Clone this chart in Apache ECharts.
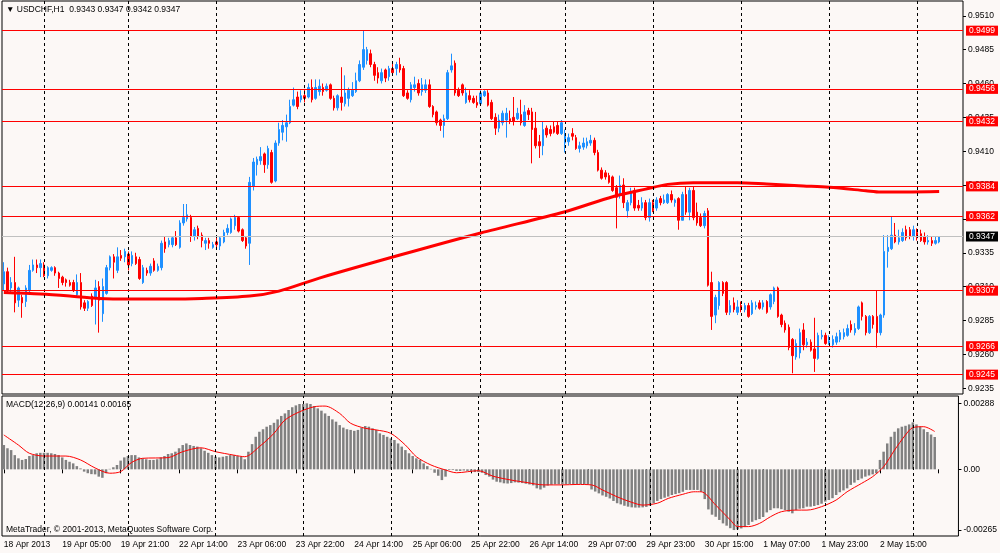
<!DOCTYPE html>
<html>
<head>
<meta charset="utf-8">
<script src="https://cdn.jsdelivr.net/npm/echarts@6/dist/echarts.min.js"></script>
<style>
  html, body { margin: 0; padding: 0; background: #fcf8f6; }
  #chart { width: 1000px; height: 553px; }
</style>
</head>
<body>
<div id="chart"></div>
<script>
// trading hours on the chart: [day, first hour, last hour]
const sessions = [
  ['18 Apr', 13, 23], ['19 Apr', 0, 22], ['22 Apr', 0, 23], ['23 Apr', 0, 23],
  ['24 Apr', 0, 23], ['25 Apr', 0, 23], ['26 Apr', 0, 22], ['29 Apr', 0, 23],
  ['30 Apr', 0, 23], ['1 May', 0, 23], ['2 May', 0, 23], ['3 May', 0, 6]
]
const firstLabel = '18 Apr 2013'
const emptyBars = 6

const opens = [
  .9312,.9321,.9309,.9313,.9300,.9302,.9299,.9307,.9322,.9326,.9324,.9326,.9318,.9322,.9324,.9320,
  .9317,.9315,.9313,.9313,.9304,.9313,.9298,.9294,.9303,.9302,.9310,.9290,.9305,.9324,.9332,.9322,
  .9333,.9332,.9334,.9327,.9332,.9330,.9313,.9322,.9320,.9329,.9322,.9324,.9343,.9341,.9341,.9346,
  .9339,.9357,.9360,.9361,.9347,.9353,.9348,.9342,.9344,.9339,.9343,.9340,.9343,.9350,.9350,.9355,
  .9361,.9352,.9346,.9342,.9384,.9400,.9403,.9408,.9400,.9409,.9388,.9416,.9424,.9428,.9431,.9444,
  .9450,.9448,.9451,.9450,.9457,.9449,.9454,.9457,.9455,.9459,.9449,.9442,.9450,.9445,.9449,.9451,
  .9454,.9462,.9472,.9477,.9482,.9474,.9468,.9462,.9470,.9465,.9471,.9471,.9474,.9471,.9453,.9448,
  .9457,.9460,.9454,.9455,.9459,.9443,.9439,.9433,.9429,.9434,.9470,.9475,.9455,.9459,.9446,.9451,
  .9449,.9446,.9445,.9451,.9453,.9446,.9435,.9427,.9431,.9433,.9434,.9435,.9434,.9437,.9429,.9440,
  .9439,.9427,.9417,.9414,.9427,.9426,.9428,.9429,.9423,.9416,.9417,.9423,.9420,.9412,.9413,.9414,
  .9416,.9418,.9409,.9396,.9394,.9392,.9391,.9383,.9378,.9385,.9366,.9372,.9381,.9370,.9368,.9372,
  .9361,.9372,.9368,.9375,.9372,.9372,.9378,.9372,.9375,.9359,.9378,.9365,.9381,.9365,.9361,.9355,
  .9366,.9313,.9289,.9296,.9313,.9313,.9291,.9298,.9291,.9296,.9293,.9296,.9290,.9295,.9298,.9295,
  .9299,.9295,.9299,.9309,.9289,.9283,.9280,.9271,.9258,.9261,.9278,.9267,.9269,.9264,.9257,.9273,
  .9274,.9268,.9267,.9269,.9271,.9273,.9274,.9282,.9276,.9279,.9298,.9288,.9276,.9288,.9288,.9276,
  .9289,.9336,.9338,.9348,.9343,.9344,.9352,.9352,.9347,.9350,.9349,.9347,.9343,.9344,.9342,.9343
]
const closes = [
  .9321,.9307,.9313,.9298,.9309,.9298,.9309,.9322,.9326,.9324,.9327,.9318,.9324,.9324,.9320,.9316,
  .9313,.9313,.9311,.9307,.9313,.9295,.9294,.9299,.9296,.9309,.9300,.9310,.9324,.9332,.9328,.9332,
  .9331,.9336,.9326,.9333,.9327,.9316,.9324,.9320,.9325,.9322,.9325,.9342,.9338,.9344,.9346,.9341,
  .9357,.9361,.9363,.9347,.9352,.9347,.9344,.9344,.9342,.9341,.9341,.9346,.9350,.9353,.9360,.9361,
  .9351,.9344,.9340,.9387,.9402,.9404,.9406,.9400,.9412,.9387,.9416,.9426,.9429,.9431,.9443,.9448,
  .9443,.9451,.9449,.9457,.9448,.9457,.9458,.9454,.9458,.9449,.9442,.9451,.9446,.9453,.9455,.9455,
  .9462,.9474,.9485,.9485,.9474,.9466,.9464,.9468,.9464,.9471,.9468,.9474,.9470,.9451,.9449,.9459,
  .9459,.9453,.9459,.9459,.9443,.9437,.9431,.9429,.9434,.9468,.9473,.9453,.9451,.9453,.9453,.9448,
  .9446,.9444,.9453,.9454,.9444,.9434,.9427,.9433,.9438,.9438,.9432,.9432,.9438,.9431,.9439,.9437,
  .9426,.9414,.9414,.9426,.9422,.9423,.9424,.9423,.9431,.9423,.9420,.9421,.9412,.9414,.9416,.9417,
  .9418,.9409,.9396,.9390,.9391,.9387,.9381,.9376,.9385,.9372,.9372,.9380,.9368,.9368,.9372,.9361,
  .9372,.9366,.9374,.9372,.9374,.9378,.9374,.9374,.9359,.9378,.9365,.9381,.9361,.9357,.9355,.9364,
  .9311,.9288,.9302,.9313,.9305,.9291,.9296,.9293,.9295,.9294,.9296,.9288,.9298,.9296,.9294,.9298,
  .9291,.9304,.9309,.9288,.9282,.9278,.9265,.9259,.9268,.9276,.9267,.9269,.9263,.9257,.9274,.9274,
  .9268,.9270,.9271,.9273,.9276,.9276,.9279,.9278,.9279,.9295,.9288,.9276,.9288,.9282,.9276,.9289,
  .9336,.9339,.9348,.9343,.9346,.9350,.9346,.9347,.9352,.9346,.9344,.9343,.9344,.9342,.9344,.9347
]
const lows = [
  .9307,.9306,.9305,.9291,.9295,.9287,.9295,.9306,.9321,.9320,.9317,.9317,.9316,.9321,.9318,.9309,
  .9311,.9310,.9310,.9306,.9302,.9293,.9292,.9292,.9295,.9282,.9276,.9284,.9304,.9322,.9316,.9320,
  .9329,.9328,.9322,.9325,.9326,.9315,.9312,.9318,.9318,.9321,.9321,.9322,.9335,.9339,.9339,.9340,
  .9338,.9355,.9358,.9343,.9344,.9345,.9339,.9337,.9338,.9338,.9339,.9337,.9342,.9348,.9349,.9352,
  .9350,.9343,.9338,.9326,.9381,.9392,.9400,.9394,.9397,.9386,.9387,.9414,.9418,.9417,.9430,.9443,
  .9441,.9446,.9446,.9449,.9446,.9448,.9451,.9451,.9454,.9448,.9440,.9440,.9440,.9443,.9443,.9450,
  .9453,.9461,.9470,.9474,.9472,.9462,.9460,.9460,.9461,.9462,.9466,.9466,.9468,.9450,.9448,.9446,
  .9454,.9451,.9451,.9453,.9442,.9435,.9429,.9425,.9420,.9433,.9468,.9451,.9450,.9451,.9445,.9446,
  .9445,.9442,.9444,.9450,.9443,.9433,.9422,.9424,.9429,.9420,.9430,.9429,.9433,.9429,.9428,.9433,
  .9401,.9412,.9405,.9407,.9420,.9421,.9423,.9422,.9422,.9409,.9414,.9418,.9411,.9409,.9411,.9412,
  .9414,.9407,.9395,.9389,.9389,.9386,.9380,.9353,.9375,.9368,.9361,.9370,.9366,.9366,.9366,.9359,
  .9358,.9365,.9366,.9370,.9371,.9371,.9372,.9369,.9352,.9359,.9363,.9359,.9359,.9355,.9354,.9353,
  .9310,.9278,.9283,.9293,.9303,.9289,.9289,.9291,.9289,.9291,.9291,.9287,.9289,.9293,.9293,.9293,
  .9290,.9293,.9297,.9287,.9280,.9276,.9263,.9246,.9256,.9257,.9263,.9265,.9262,.9247,.9256,.9271,
  .9267,.9267,.9265,.9267,.9269,.9271,.9273,.9276,.9274,.9278,.9285,.9274,.9275,.9279,.9265,.9274,
  .9287,.9324,.9337,.9342,.9341,.9343,.9344,.9345,.9344,.9344,.9343,.9341,.9341,.9340,.9341,.9342
]
const highs = [
  .9328,.9324,.9317,.9332,.9310,.9304,.9311,.9326,.9330,.9330,.9330,.9328,.9325,.9325,.9325,.9321,
  .9318,.9316,.9315,.9315,.9319,.9320,.9300,.9300,.9305,.9315,.9314,.9316,.9326,.9333,.9334,.9339,
  .9337,.9338,.9336,.9336,.9335,.9332,.9326,.9324,.9327,.9331,.9327,.9344,.9347,.9346,.9347,.9351,
  .9359,.9371,.9371,.9363,.9354,.9355,.9350,.9346,.9346,.9343,.9347,.9347,.9352,.9356,.9361,.9363,
  .9362,.9353,.9347,.9391,.9405,.9406,.9413,.9409,.9414,.9411,.9418,.9431,.9433,.9437,.9448,.9457,
  .9454,.9455,.9456,.9460,.9463,.9463,.9463,.9460,.9460,.9460,.9451,.9452,.9472,.9466,.9457,.9461,
  .9468,.9477,.9499,.9487,.9485,.9476,.9472,.9471,.9471,.9473,.9476,.9476,.9479,.9473,.9455,.9461,
  .9465,.9463,.9464,.9463,.9463,.9444,.9440,.9434,.9437,.9470,.9482,.9477,.9457,.9460,.9457,.9455,
  .9451,.9451,.9455,.9455,.9455,.9448,.9438,.9437,.9440,.9442,.9440,.9450,.9442,.9448,.9444,.9442,
  .9442,.9439,.9422,.9432,.9429,.9429,.9432,.9432,.9433,.9426,.9423,.9427,.9422,.9417,.9420,.9420,
  .9422,.9420,.9411,.9398,.9396,.9394,.9392,.9385,.9392,.9390,.9374,.9383,.9383,.9374,.9376,.9374,
  .9375,.9374,.9376,.9377,.9378,.9379,.9381,.9375,.9376,.9380,.9384,.9383,.9384,.9372,.9364,.9366,
  .9368,.9321,.9304,.9314,.9314,.9314,.9300,.9302,.9300,.9299,.9298,.9298,.9300,.9299,.9300,.9300,
  .9300,.9305,.9310,.9310,.9290,.9285,.9282,.9272,.9271,.9279,.9283,.9272,.9271,.9287,.9276,.9278,
  .9276,.9274,.9274,.9276,.9278,.9279,.9282,.9285,.9283,.9296,.9299,.9289,.9289,.9289,.9307,.9290,
  .9348,.9348,.9362,.9357,.9352,.9353,.9355,.9354,.9355,.9353,.9352,.9350,.9348,.9347,.9347,.9347
]

// moving average read at a few bars: [bar, price]
const maPoints = [
  [0, 0.93056], [10, 0.93045], [18, 0.93030], [26, 0.93012], [35, 0.93008], [44, 0.93008],
  [54, 0.93012], [67, 0.93030], [75, 0.93067], [86, 0.93163], [108, 0.93333], [130, 0.93496],
  [153, 0.93653], [166, 0.93764], [175, 0.93820], [181, 0.93855], [188, 0.93867], [200, 0.93867],
  [208, 0.93857], [218, 0.93843], [225, 0.93833], [235, 0.93808], [239, 0.93798], [255, 0.93803]
]

const levels = [0.9499, 0.9456, 0.9432, 0.9384, 0.9362, 0.9307, 0.9266, 0.9245]
const lastPrice = 0.9347
const priceTicks = [0.9235, 0.9260, 0.9285, 0.9310, 0.9335, 0.9360, 0.9385, 0.9410, 0.9435, 0.9460, 0.9485, 0.9510]

const macd = [
  .00106,.00092,.00084,.00062,.00048,.00041,.00045,.00058,.00062,.00070,.00072,.00072,.00072,.00070,.00067,.00062,
  .00052,.00041,.00033,.00026,.00014,.00004,-.00010,-.00017,-.00021,-.00022,-.00032,-.00037,-.00017,.00002,.00009,.00019,
  .00038,.00052,.00058,.00062,.00062,.00052,.00048,.00044,.00041,.00041,.00044,.00052,.00058,.00067,.00070,.00077,
  .00092,.00106,.00113,.00106,.00102,.00099,.00092,.00081,.00072,.00062,.00055,.00052,.00055,.00058,.00062,.00062,
  .00058,.00055,.00044,.00077,.00110,.00142,.00164,.00175,.00186,.00193,.00203,.00218,.00233,.00244,.00259,.00271,
  .00279,.00285,.00285,.00288,.00285,.00276,.00266,.00256,.00244,.00233,.00218,.00208,.00193,.00182,.00175,.00172,
  .00168,.00172,.00182,.00189,.00186,.00179,.00172,.00157,.00150,.00142,.00135,.00128,.00113,.00099,.00084,.00070,
  .00058,.00048,.00041,.00026,.00014,.00002,-.00015,-.00028,-.00047,-.00032,-.00003,-.00003,-.00007,-.00007,-.00005,-.00007,
  -.00008,-.00012,-.00012,-.00015,-.00025,-.00032,-.00045,-.00054,-.00057,-.00061,-.00062,-.00060,-.00057,-.00058,-.00060,-.00063,
  -.00066,-.00070,-.00083,-.00088,-.00080,-.00071,-.00067,-.00065,-.00065,-.00066,-.00065,-.00064,-.00064,-.00064,-.00064,-.00065,
  -.00066,-.00088,-.00097,-.00105,-.00114,-.00120,-.00127,-.00138,-.00148,-.00153,-.00159,-.00163,-.00166,-.00167,-.00167,-.00166,
  -.00164,-.00159,-.00148,-.00138,-.00130,-.00124,-.00119,-.00112,-.00108,-.00104,-.00098,-.00090,-.00090,-.00090,-.00090,-.00098,
  -.00130,-.00175,-.00198,-.00207,-.00221,-.00236,-.00246,-.00257,-.00265,-.00262,-.00258,-.00252,-.00243,-.00229,-.00222,-.00217,
  -.00208,-.00188,-.00178,-.00170,-.00170,-.00174,-.00178,-.00185,-.00192,-.00178,-.00172,-.00170,-.00163,-.00163,-.00160,-.00156,
  -.00150,-.00141,-.00134,-.00126,-.00112,-.00100,-.00092,-.00083,-.00068,-.00058,-.00047,-.00040,-.00032,-.00027,-.00022,-.00017,
  .00041,.00077,.00113,.00142,.00164,.00179,.00186,.00190,.00196,.00205,.00196,.00186,.00175,.00163,.00152,.00141
]

// signal line read at a few bars: [bar, value]
const signalPoints = [
  [0, 0.00150], [4, 0.00106], [7, 0.00070], [11, 0.00058], [17, 0.00058], [21, 0.00041],
  [25, 0.00006], [29, -0.00017], [32, -0.00010], [35, 0.00030], [38, 0.00048], [45, 0.00051],
  [49, 0.00077], [54, 0.00094], [58, 0.00077], [63, 0.00062], [66, 0.00055], [70, 0.00099],
  [74, 0.00157], [77, 0.00215], [81, 0.00251], [85, 0.00273], [88, 0.00276], [92, 0.00244],
  [95, 0.00201], [99, 0.00179], [102, 0.00172], [106, 0.00157], [110, 0.00106], [113, 0.00055],
  [117, 0.00019], [121, -0.00003], [124, -0.00015], [130, -0.00006], [134, -0.00030], [139, -0.00047],
  [143, -0.00057], [148, -0.00068], [153, -0.00068], [157, -0.00066], [161, -0.00068], [164, -0.00090],
  [168, -0.00120], [172, -0.00144], [175, -0.00156], [179, -0.00148], [182, -0.00127], [186, -0.00109],
  [189, -0.00098], [191, -0.00098], [195, -0.00156], [199, -0.00221], [201, -0.00250], [204, -0.00250],
  [207, -0.00236], [210, -0.00207], [213, -0.00185], [217, -0.00178], [220, -0.00178], [224, -0.00163],
  [228, -0.00134], [231, -0.00098], [235, -0.00061], [238, -0.00032], [241, 0.00011], [244, 0.00084],
  [247, 0.00150], [249, 0.00182], [252, 0.00186], [255, 0.00165]
]
const macdTicks = [-0.00265, 0, 0.00288]

const titleText = '\u25BC USDCHF,H1  0.9343 0.9347 0.9342 0.9347'
const macdText = 'MACD(12,26,9) 0.00141 0.00165'
const copyText = 'MetaTrader, \u00A9 2001-2013, MetaQuotes Software Corp.'

const FONT = '"Liberation Sans", Arial, sans-serif'
const UP = '#1e90ff'
const DOWN = '#ff0000'

const categories = []
sessions.forEach(([day, from, to]) => {
  for (let h = from; h <= to; h++) {
    categories.push(day + ' ' + String(h).padStart(2, '0') + ':00')
  }
})
for (let k = 0; k < emptyBars; k++) categories.push('')

const dayLines = categories.filter(c => c.endsWith(' 00:00')).map(c => ({ xAxis: c }))
const candles = opens.map((o, i) => [o, closes[i], lows[i], highs[i]])

const dayLineStyle = {
  silent: true,
  symbol: ['none', 'none'],
  animation: false,
  label: { show: false },
  lineStyle: { color: '#000', type: [3, 3], width: 1 },
  data: dayLines
}

const levelLabel = {
  show: true,
  position: 'end',
  distance: 3,
  formatter: p => Number(p.value).toFixed(4),
  color: '#fff',
  backgroundColor: '#ff0000',
  padding: [1, 3, 0, 3],
  fontSize: 8.5,
  fontFamily: FONT
}

const chart = echarts.init(document.getElementById('chart'))

chart.setOption({
  animation: false,
  backgroundColor: '#fcf8f6',
  textStyle: { fontFamily: FONT },
  grid: [
    { left: 2, top: 1, width: 961, height: 393, show: true, borderColor: '#000', borderWidth: 1 },
    { left: 2, top: 396, width: 961, height: 140, show: true, borderColor: '#000', borderWidth: 1 }
  ],
  xAxis: [
    {
      type: 'category', gridIndex: 0, data: categories, boundaryGap: true,
      axisLine: { show: false }, axisTick: { show: false }, axisLabel: { show: false }, splitLine: { show: false }
    },
    {
      type: 'category', gridIndex: 1, data: categories, boundaryGap: true,
      axisLine: { show: false },
      axisTick: { show: true, interval: 15, alignWithLabel: true, length: 4, lineStyle: { color: '#000' } },
      axisLabel: {
        interval: 15, align: 'left', margin: 4, fontSize: 8.5, color: '#000', fontFamily: FONT,
        formatter: (v, i) => (i === 0 ? firstLabel : v)
      },
      splitLine: { show: false }
    }
  ],
  yAxis: [
    {
      type: 'value', gridIndex: 0, position: 'right', min: 0.92307, max: 0.95209, scale: true,
      axisLine: { show: false }, splitLine: { show: false },
      axisTick: { show: true, length: 3, customValues: priceTicks, lineStyle: { color: '#000' } },
      axisLabel: {
        customValues: priceTicks, margin: 5, fontSize: 8.5, color: '#000', fontFamily: FONT,
        formatter: v => v.toFixed(4)
      }
    },
    {
      type: 'value', gridIndex: 1, position: 'right', min: -0.00291, max: 0.0032,
      axisLine: { show: false }, splitLine: { show: false },
      axisTick: { show: true, length: 3, customValues: macdTicks, lineStyle: { color: '#000' } },
      axisLabel: {
        customValues: macdTicks, margin: 5, fontSize: 8.5, color: '#000', fontFamily: FONT,
        formatter: v => (v === 0 ? '0.00' : v.toFixed(5))
      }
    }
  ],
  graphic: [
    { type: 'text', x: 6, y: 10, silent: true,
      style: { text: titleText, fill: '#000', font: '8.5px ' + FONT, verticalAlign: 'middle' } },
    { type: 'text', x: 6, y: 405, silent: true,
      style: { text: macdText, fill: '#000', font: '8.5px ' + FONT, verticalAlign: 'middle' } },
    { type: 'text', x: 6, y: 530, silent: true,
      style: { text: copyText, fill: '#000', font: '8.5px ' + FONT, verticalAlign: 'middle' } }
  ],
  series: [
    {
      name: 'USDCHF', type: 'candlestick', xAxisIndex: 0, yAxisIndex: 0,
      data: candles, barWidth: 2,
      itemStyle: { color: UP, color0: DOWN, borderColor: UP, borderColor0: DOWN, borderWidth: 1 },
      markLine: dayLineStyle
    },
    {
      name: 'MA', type: 'line', xAxisIndex: 0, yAxisIndex: 0,
      data: maPoints, showSymbol: false, smooth: 0.3, z: 3,
      lineStyle: { color: '#ff0000', width: 3 },
      markLine: {
        silent: true, symbol: ['none', 'none'], animation: false, precision: 5,
        lineStyle: { color: '#ff0000', type: 'solid', width: 1 },
        label: levelLabel,
        data: levels.map(v => ({ yAxis: v })).concat([{
          yAxis: lastPrice,
          lineStyle: { color: '#c0c0c0', type: 'solid', width: 1 },
          label: Object.assign({}, levelLabel, { backgroundColor: '#000' })
        }])
      }
    },
    {
      name: 'MACD', type: 'bar', xAxisIndex: 1, yAxisIndex: 1,
      data: macd, barWidth: 2.5,
      itemStyle: { color: '#808080' },
      markLine: dayLineStyle
    },
    {
      name: 'Signal', type: 'line', xAxisIndex: 1, yAxisIndex: 1,
      data: signalPoints, showSymbol: false, smooth: 0.3,
      lineStyle: { color: '#ff0000', width: 1 }
    }
  ]
})
</script>
</body>
</html>
